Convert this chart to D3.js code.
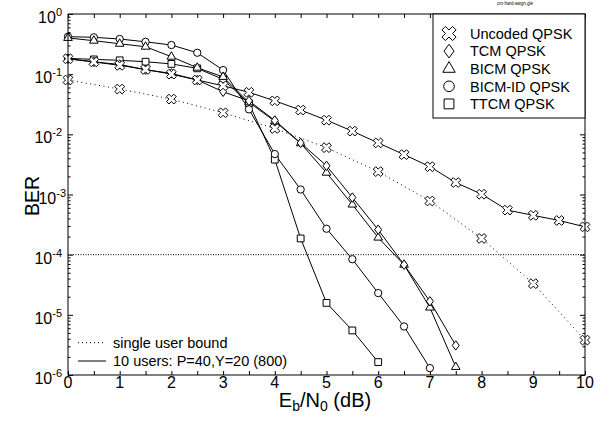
<!DOCTYPE html>
<html>
<head>
<meta charset="utf-8">
<script src="https://cdn.jsdelivr.net/npm/d3@7"></script>
<style>
  body { margin: 0; background: #fff; }
  text { font-family: "Liberation Sans", Arial, sans-serif; fill: #000; }
</style>
</head>
<body>
<div class="chart"></div>
<script>
const width = 611;
const height = 421;

                                        // DATA //
// Eb/N0 (dB) grids
const ebnoHalf = d3.range(0, 10.01, 0.5);
const ebnoInt = d3.range(0, 10.01, 1);

// 10 users: P=40, Y=20 (800)
const uncodedBer = [0.18, 0.16, 0.14, 0.12, 0.1, 0.08, 0.064, 0.05, 0.036, 0.0253,
                    0.0172, 0.0113, 0.0072, 0.0046, 0.0029, 0.00158, 0.00101, 0.00055,
                    0.00045, 0.00037, 0.00029];
const tcmBer = [0.18, 0.16, 0.145, 0.118, 0.103, 0.08, 0.051, 0.036, 0.017, 0.0072,
                0.003, 0.00089, 0.00026, 0.000068, 0.0000168, 0.0000031];
const bicmBer = [0.40, 0.36, 0.32, 0.286, 0.195, 0.128, 0.09, 0.034, 0.0165, 0.0071,
                 0.0023, 0.00068, 0.000192, 0.000068, 0.0000132, 0.00000136];
const bicmIdBer = [0.42, 0.41, 0.384, 0.345, 0.305, 0.227, 0.117, 0.026, 0.0047, 0.00121,
                   0.00027, 0.000084, 0.000023, 0.0000064, 0.0000013];
const ttcmBer = [0.183, 0.176, 0.17, 0.161, 0.148, 0.125, 0.082, 0.0327, 0.0038, 0.000186,
                 0.0000158, 0.0000055, 0.00000164];

// single user bound (uncoded)
const boundBer = [0.08, 0.0565, 0.0385, 0.0228, 0.0125, 0.006, 0.0024, 0.00078,
                  0.000186, 0.000033, 0.0000038];

const refBer = 1e-4;

const legendNames = ["Uncoded QPSK", "TCM QPSK", "BICM QPSK", "BICM-ID QPSK", "TTCM QPSK"];
const styleNames = ["single user bound", "10 users: P=40,Y=20 (800)"];
const yTickValues = [1, 1e-1, 1e-2, 1e-3, 1e-4, 1e-5, 1e-6];
const yTickExps = ["0", "-1", "-2", "-3", "-4", "-5", "-6"];

                                        // SVG //
const svg = d3.select(".chart")
    .append("svg")
    .attr("width", width)
    .attr("height", height)
    .attr("viewBox", [0, 0, width, height]);

const pLeft = 68, pRight = 585, pTop = 14, pBottom = 375;

const x = d3.scaleLinear().domain([0, 10]).range([pLeft, pRight]);
const y = d3.scaleLog().domain([1e-6, 1]).range([pBottom, pTop]);

// custom marker shapes
const symX = {
    draw(ctx, size) {
        const r = Math.sqrt(size / 5) / 2;
        // cross rotated 45 degrees
        const pts = [[-3*r,-r],[-r,-r],[-r,-3*r],[r,-3*r],[r,-r],[3*r,-r],
                     [3*r,r],[r,r],[r,3*r],[-r,3*r],[-r,r],[-3*r,r]];
        const c = Math.SQRT1_2;
        pts.forEach((p, i) => {
            const px = (p[0] - p[1]) * c, py = (p[0] + p[1]) * c;
            if (i === 0) ctx.moveTo(px, py); else ctx.lineTo(px, py);
        });
        ctx.closePath();
    }
};
const symDiamond = {
    draw(ctx, size) {
        const h = Math.sqrt(size) * 0.68, w = h * 0.74;
        ctx.moveTo(0, -h);
        ctx.lineTo(w, 0);
        ctx.lineTo(0, h);
        ctx.lineTo(-w, 0);
        ctx.closePath();
    }
};

const series = [
    {name: legendNames[0], xs: ebnoHalf, ys: uncodedBer, sym: symX, size: 60},
    {name: legendNames[1], xs: ebnoHalf.slice(0, 16), ys: tcmBer, sym: symDiamond, size: 48},
    {name: legendNames[2], xs: ebnoHalf.slice(0, 16), ys: bicmBer, sym: d3.symbolTriangle, size: 32},
    {name: legendNames[3], xs: ebnoHalf.slice(0, 15), ys: bicmIdBer, sym: d3.symbolCircle, size: 42},
    {name: legendNames[4], xs: ebnoHalf.slice(0, 13), ys: ttcmBer, sym: d3.symbolSquare, size: 46}
];
const bound = {xs: ebnoInt, ys: boundBer, sym: symX, size: 60};

                                        // AXES //
const tickHalf = d3.range(0, 10.01, 0.5);
svg.append("g")
    .attr("transform", `translate(0,${pBottom})`)
    .call(d3.axisBottom(x).tickValues(tickHalf).tickSizeInner(-4).tickSizeOuter(0).tickFormat(""))
    .call(g => g.select(".domain").remove());
svg.append("g")
    .attr("transform", `translate(0,${pTop})`)
    .call(d3.axisTop(x).tickValues(tickHalf).tickSizeInner(-4).tickSizeOuter(0).tickFormat(""))
    .call(g => g.select(".domain").remove());

// log minor ticks
const minorY = [];
for (let e = -6; e < 0; e++) for (let m = 2; m <= 9; m++) minorY.push(m * Math.pow(10, e));
[[d3.axisLeft, pLeft], [d3.axisRight, pRight]].forEach(([ax, pos]) => {
    svg.append("g")
        .attr("transform", `translate(${pos},0)`)
        .call(ax(y).tickValues(yTickValues).tickSizeInner(-5).tickSizeOuter(0).tickFormat(""))
        .call(g => g.select(".domain").remove());
    svg.append("g")
        .attr("transform", `translate(${pos},0)`)
        .call(ax(y).tickValues(minorY).tickSizeInner(-2.5).tickSizeOuter(0).tickFormat(""))
        .call(g => g.select(".domain").remove());
});
svg.selectAll(".tick line").attr("stroke", "#000");

// x tick labels
svg.append("g")
    .selectAll("text")
    .data(ebnoInt)
    .join("text")
    .attr("x", d => x(d))
    .attr("y", 388)
    .attr("text-anchor", "middle")
    .attr("font-size", 16)
    .text(d => d);

// y tick labels 10^n (the 10^-3 one is nudged right of the BER title, as in the original)
const yl = svg.append("g")
    .selectAll("text")
    .data(yTickValues)
    .join("text")
    .attr("x", d => d === 1e-3 ? 66 : 62)
    .attr("y", d => y(d) + 9)
    .attr("text-anchor", "end")
    .attr("font-size", 16);
yl.append("tspan").text("10");
yl.append("tspan")
    .attr("font-size", 11)
    .attr("dy", -7)
    .text((d, i) => yTickExps[i]);

// axis titles
svg.append("text")
    .attr("transform", "translate(38.5,196) rotate(-90)")
    .attr("text-anchor", "middle")
    .attr("font-size", 19.5)
    .text("BER");

const xt = svg.append("text")
    .attr("x", 325)
    .attr("y", 407)
    .attr("text-anchor", "middle")
    .attr("font-size", 20);
xt.append("tspan").text("E");
xt.append("tspan").attr("font-size", 14).attr("dy", 4).text("b");
xt.append("tspan").attr("dy", -4).text("/N");
xt.append("tspan").attr("font-size", 14).attr("dy", 4).text("0");
xt.append("tspan").attr("dy", -4).text(" (dB)");

// file name
svg.append("text")
    .attr("x", 515)
    .attr("y", 5)
    .attr("text-anchor", "middle")
    .attr("font-size", 4.5)
    .attr("fill", "#444")
    .text("cm-hard-awgn.gle");

                                        // LINES //
const line = d3.line().x(d => x(d[0])).y(d => y(d[1]));
const pairs = s => s.xs.map((v, i) => [v, s.ys[i]]);

// reference line at 1e-4
svg.append("line")
    .attr("x1", pLeft).attr("x2", pRight)
    .attr("y1", y(refBer)).attr("y2", y(refBer))
    .attr("stroke", "#000")
    .attr("stroke-dasharray", "1,1.5");

svg.append("path")
    .datum(pairs(bound))
    .attr("d", line)
    .attr("fill", "none")
    .attr("stroke", "#000")
    .attr("stroke-dasharray", "1,3.5");

series.forEach(s => {
    svg.append("path")
        .datum(pairs(s))
        .attr("d", line)
        .attr("fill", "none")
        .attr("stroke", "#000")
        .attr("stroke-width", 1);
});

// markers
[bound].concat(series.slice().reverse()).forEach(s => {
    svg.append("g")
        .selectAll("path")
        .data(pairs(s))
        .join("path")
        .attr("transform", d => `translate(${x(d[0])},${y(d[1])})`)
        .attr("d", d3.symbol(s.sym, s.size))
        .attr("fill", "#fff")
        .attr("stroke", "#000")
        .attr("stroke-width", 1);
});

// frame
svg.append("rect")
    .attr("x", pLeft).attr("y", pTop)
    .attr("width", pRight - pLeft).attr("height", pBottom - pTop)
    .attr("fill", "none")
    .attr("stroke", "#000");

                                        // LEGENDS //
const lg = svg.append("g");
lg.append("rect")
    .attr("x", 433).attr("y", pTop)
    .attr("width", pRight - 433).attr("height", 104)
    .attr("fill", "#fff")
    .attr("stroke", "#000");
const row = lg.selectAll("g.row")
    .data(series)
    .join("g")
    .attr("class", "row")
    .attr("transform", (d, i) => `translate(0,${33.5 + i * 17.6})`);
row.append("path")
    .attr("transform", "translate(449,0)")
    .attr("d", d => d3.symbol(d.sym, d.size * 2.1)())
    .attr("fill", "#fff")
    .attr("stroke", "#000");
row.append("text")
    .attr("x", 470)
    .attr("y", 5.2)
    .attr("font-size", 14.5)
    .text(d => d.name);

const sg = svg.append("g")
    .selectAll("g")
    .data(styleNames)
    .join("g")
    .attr("transform", (d, i) => `translate(0,${342.7 + i * 18.3})`);
sg.append("line")
    .attr("x1", 78).attr("x2", 106)
    .attr("stroke", "#000")
    .attr("stroke-dasharray", (d, i) => i === 0 ? "1,3" : null);
sg.append("text")
    .attr("x", 113)
    .attr("y", 5.2)
    .attr("font-size", 14.5)
    .text(d => d);
</script>
</body>
</html>
